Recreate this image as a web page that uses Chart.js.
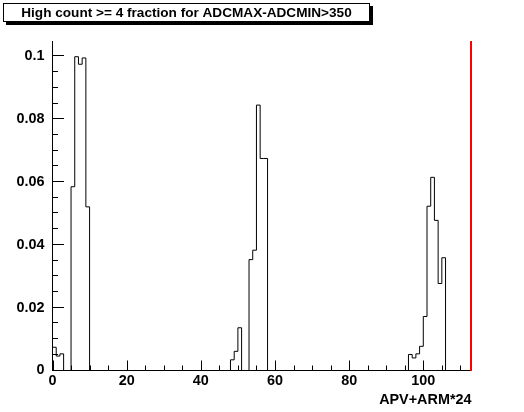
<!DOCTYPE html>
<html>
<head>
<meta charset="utf-8">
<script src="https://cdn.jsdelivr.net/npm/chart.js@4.4.1/dist/chart.umd.min.js"></script>
<style>
html,body{margin:0;padding:0;background:#ffffff;}
#wrap{width:524px;height:412px;position:relative;}
</style>
</head>
<body>
<div id="wrap"><canvas id="c" width="524" height="412"></canvas></div>
<script>
// ---- data ----
const titleText = 'High count >= 4 fraction for ADCMAX-ADCMIN>350';
const xAxisTitle = 'APV+ARM*24';
const xMin = 0;
const xMax = 113;
const binWidth = 1;
const binValues = [
  0.0074, 0.0046, 0.0053, 0, 0, 0.0585, 0.0999, 0.0975, 0.0995, 0.0521,
  0, 0, 0, 0, 0, 0, 0, 0, 0, 0,
  0, 0, 0, 0, 0, 0, 0, 0, 0, 0,
  0, 0, 0, 0, 0, 0, 0, 0, 0, 0,
  0, 0, 0, 0, 0, 0, 0, 0, 0.0034, 0.0061,
  0.0136, 0, 0, 0.0353, 0.0383, 0.0845, 0.0675, 0.0675, 0, 0,
  0, 0, 0, 0, 0, 0, 0, 0, 0, 0,
  0, 0, 0, 0, 0, 0, 0, 0, 0, 0,
  0, 0, 0, 0, 0, 0, 0, 0, 0, 0,
  0, 0, 0, 0, 0, 0, 0.0051, 0.0040, 0.0053, 0.0077,
  0.0172, 0.0523, 0.0615, 0.0478, 0.0277, 0.0359, 0, 0, 0, 0,
  0, 0, 0
];
const yMin = 0;
const yMax = 0.1049;
const xTickValues = [0, 20, 40, 60, 80, 100];
const xTickLabels = ['0', '20', '40', '60', '80', '100'];
const xMinorStep = 5;
const yTickValues = [0, 0.02, 0.04, 0.06, 0.08, 0.1];
const yTickLabels = ['0', '0.02', '0.04', '0.06', '0.08', '0.1'];
const yMinorStep = 0.005;

// ---- build histogram outline points (left edge of each bin, step-before) ----
const points = binValues.map((v, i) => ({x: xMin + i * binWidth, y: v}));
points.push({x: xMin + binValues.length * binWidth, y: 0});

const FONT = "'Liberation Sans', Arial, Helvetica, sans-serif";

const rootPlugin = {
  id: 'rootStyle',
  afterDraw(chart) {
    const ctx = chart.ctx;
    const a = chart.chartArea;
    const xs = chart.scales.x, ys = chart.scales.y;
    ctx.save();
    ctx.strokeStyle = '#000';
    ctx.lineWidth = 1;
    const B = Math.round(a.bottom) - 0.5;
    // axes
    ctx.beginPath();
    ctx.moveTo(52.5, Math.round(a.top));
    ctx.lineTo(52.5, B + 0.5);
    ctx.moveTo(52, B);
    ctx.lineTo(Math.round(a.right), B);
    ctx.stroke();
    // y ticks
    ctx.beginPath();
    for (let k = 0; ; k++) {
      const v = yMin + k * yMinorStep;
      if (v > yMax + 1e-9) break;
      const py = Math.round(ys.getPixelForValue(v)) - 0.5;
      const major = yTickValues.some(t => Math.abs(t - v) < 1e-9);
      ctx.moveTo(52, py);
      ctx.lineTo(52 + (major ? 12 : 6), py);
    }
    // x ticks
    for (let k = 0; ; k++) {
      const v = xMin + k * xMinorStep;
      if (v > xMax + 1e-9) break;
      const px = Math.round(xs.getPixelForValue(v)) + 0.5;
      const major = xTickValues.some(t => Math.abs(t - v) < 1e-9);
      ctx.moveTo(px, B);
      ctx.lineTo(px, B - (major ? 10 : 5));
    }
    ctx.stroke();
    // red line at right edge
    const rx = Math.round(xs.getPixelForValue(xMax));
    ctx.strokeStyle = '#ff0000';
    ctx.lineWidth = 2;
    ctx.beginPath();
    ctx.moveTo(rx - 1, Math.round(a.top));
    ctx.lineTo(rx - 1, B + 0.5);
    ctx.stroke();
    // title box with shadow
    ctx.fillStyle = '#000';
    ctx.fillRect(6, 6, 367, 19);
    ctx.fillStyle = '#fff';
    ctx.fillRect(3, 3, 367, 19);
    ctx.strokeStyle = '#000';
    ctx.lineWidth = 1;
    ctx.strokeRect(3.5, 3.5, 366, 18);
    ctx.fillStyle = '#000';
    ctx.font = 'bold 13.6px ' + FONT;
    ctx.textAlign = 'center';
    ctx.textBaseline = 'alphabetic';
    ctx.fillText(titleText, 186.5, 17);
    ctx.restore();
  }
};

new Chart(document.getElementById('c'), {
  type: 'line',
  data: {
    datasets: [{
      data: points,
      stepped: 'before',
      borderColor: '#000000',
      borderWidth: 1,
      pointRadius: 0,
      fill: false,
      tension: 0
    }]
  },
  plugins: [rootPlugin],
  options: {
    responsive: false,
    animation: false,
    devicePixelRatio: 1,
    events: [],
    layout: {padding: {top: 41, right: 52.5, left: 0, bottom: 0}},
    plugins: {legend: {display: false}, tooltip: {enabled: false}, title: {display: false}},
    scales: {
      x: {
        type: 'linear',
        min: xMin,
        max: xMax,
        grid: {display: false, drawTicks: false},
        border: {display: false},
        afterBuildTicks: s => { s.ticks = xTickValues.map(v => ({value: v})); },
        afterFit: s => { s.height = 41.5; },
        ticks: {
          autoSkip: false,
          maxRotation: 0,
          padding: 2,
          color: '#000',
          font: {family: FONT, weight: 'bold', size: 14.4},
          callback: (v) => { const i = xTickValues.indexOf(v); return i >= 0 ? xTickLabels[i] : ''; }
        },
        title: {
          display: true,
          text: xAxisTitle,
          align: 'end',
          color: '#000',
          font: {family: FONT, weight: 'bold', size: 14.4},
          padding: {top: 0, bottom: 3}
        }
      },
      y: {
        type: 'linear',
        min: yMin,
        max: yMax,
        grid: {display: false, drawTicks: false},
        border: {display: false},
        afterBuildTicks: s => { s.ticks = yTickValues.map(v => ({value: v})); },
        afterFit: s => { s.width = 52.5; },
        ticks: {
          autoSkip: false,
          padding: 8,
          color: '#000',
          font: {family: FONT, weight: 'bold', size: 14.4},
          callback: (v) => { const i = yTickValues.findIndex(t => Math.abs(t - v) < 1e-9); return i >= 0 ? yTickLabels[i] : ''; }
        }
      }
    }
  }
});
</script>
</body>
</html>
